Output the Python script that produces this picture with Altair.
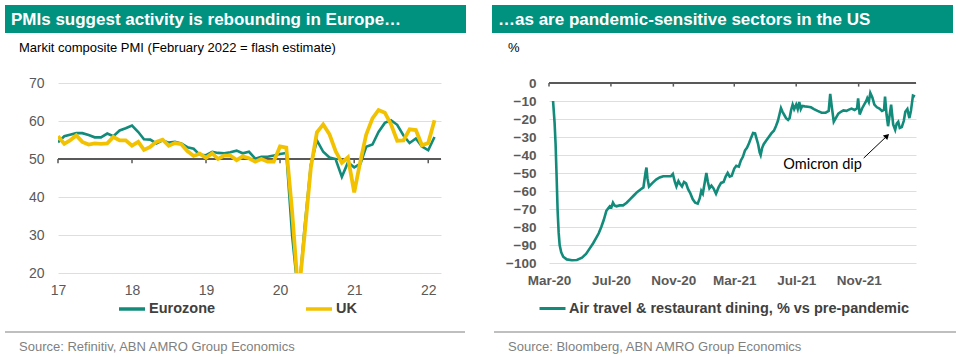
import altair as alt
import pandas as pd

FONT = "Liberation Sans"
BAR = "#00927f"
TEAL = "#138b7b"
YELLOW = "#f2c200"
GRID = "#dedede"
AXIS_DARK = "#595959"
LABEL = "#595959"
SRC = "#7f7f7f"

# ---------------- Left panel data: Markit composite PMI ----------------
pmi_months = pd.date_range("2017-01-01", "2022-02-01", freq="MS").strftime("%Y-%m-%d").tolist()
eurozone_pmi = [
    54.4, 56.0, 56.4, 56.8, 56.8, 56.3, 55.7, 55.7, 56.7, 56.0, 57.5, 58.1,
    58.8, 57.1, 55.2, 55.1, 54.1, 54.9, 54.3, 54.5, 54.1, 53.1, 52.7, 51.1,
    51.0, 51.9, 51.6, 51.5, 51.8, 52.2, 51.5, 51.9, 50.1, 50.6, 50.6, 50.9,
    51.3, 51.6, 29.7, 13.6, 31.9, 48.5, 54.9, 51.9, 50.4, 50.0, 45.3, 49.1,
    47.8, 48.8, 53.2, 53.8, 57.1, 59.5, 60.2, 59.0, 56.2, 54.2, 55.4, 53.3,
    52.3, 55.8,
]
uk_pmi = [
    56.0, 54.0, 54.9, 56.2, 54.5, 53.8, 54.1, 54.0, 54.1, 55.8, 54.9, 54.9,
    53.5, 54.5, 52.4, 53.2, 54.5, 55.1, 53.5, 54.2, 53.9, 52.1, 50.8, 51.4,
    50.3, 51.5, 50.0, 50.9, 50.9, 49.7, 50.7, 50.2, 49.3, 50.0, 49.3, 49.3,
    53.3, 53.0, 36.0, 13.8, 30.0, 47.7, 57.0, 59.1, 56.5, 52.1, 49.0, 50.4,
    41.2, 49.6, 56.4, 60.7, 62.9, 62.2, 59.2, 54.8, 54.9, 57.8, 57.6, 53.6,
    54.2, 60.2,
]
pmi_series = ["Eurozone", "UK"]
pmi_year_ticks = [2017, 2018, 2019, 2020, 2021, 2022]
pmi_y_ticks = [20, 30, 40, 50, 60, 70]

# ---------------- Right panel data: US air travel & dining ----------------
air_dates = [
    "2020-03-09", "2020-03-12", "2020-03-14", "2020-03-16", "2020-03-18", "2020-03-20",
    "2020-03-22", "2020-03-25", "2020-03-29", "2020-04-05", "2020-04-15", "2020-04-25",
    "2020-05-05", "2020-05-13", "2020-05-20", "2020-05-27", "2020-06-02", "2020-06-07",
    "2020-06-12", "2020-06-17", "2020-06-22", "2020-06-26", "2020-06-29", "2020-07-02",
    "2020-07-05", "2020-07-08", "2020-07-12", "2020-07-18", "2020-07-25", "2020-08-01",
    "2020-08-08", "2020-08-15", "2020-08-22", "2020-08-29", "2020-09-03", "2020-09-07",
    "2020-09-09", "2020-09-11", "2020-09-14", "2020-09-21", "2020-09-28", "2020-10-05",
    "2020-10-12", "2020-10-20", "2020-10-27", "2020-10-31", "2020-11-04", "2020-11-07",
    "2020-11-11", "2020-11-14", "2020-11-18", "2020-11-22", "2020-11-26", "2020-11-30",
    "2020-12-04", "2020-12-09", "2020-12-14", "2020-12-19", "2020-12-23", "2020-12-26",
    "2020-12-29", "2021-01-02", "2021-01-05", "2021-01-08", "2021-01-11", "2021-01-15",
    "2021-01-19", "2021-01-24", "2021-01-29", "2021-02-03", "2021-02-08", "2021-02-12",
    "2021-02-16", "2021-02-20", "2021-02-24", "2021-03-01", "2021-03-05", "2021-03-10",
    "2021-03-14", "2021-03-18", "2021-03-22", "2021-03-26", "2021-03-30", "2021-04-03",
    "2021-04-07", "2021-04-11", "2021-04-14", "2021-04-17", "2021-04-20", "2021-04-22",
    "2021-04-25", "2021-04-28", "2021-05-03", "2021-05-08", "2021-05-13", "2021-05-18",
    "2021-05-22", "2021-05-26", "2021-05-29", "2021-06-01", "2021-06-04", "2021-06-07",
    "2021-06-11", "2021-06-15", "2021-06-18", "2021-06-21", "2021-06-24", "2021-06-27",
    "2021-07-01", "2021-07-04", "2021-07-07", "2021-07-10", "2021-07-13", "2021-07-18",
    "2021-07-24", "2021-07-30", "2021-08-05", "2021-08-12", "2021-08-20", "2021-08-28",
    "2021-09-03", "2021-09-06", "2021-09-09", "2021-09-13", "2021-09-17", "2021-09-22",
    "2021-09-27", "2021-10-02", "2021-10-08", "2021-10-13", "2021-10-18", "2021-10-24",
    "2021-10-29", "2021-10-31", "2021-11-03", "2021-11-08", "2021-11-13", "2021-11-16",
    "2021-11-18", "2021-11-21", "2021-11-24", "2021-11-28", "2021-12-02", "2021-12-07",
    "2021-12-12", "2021-12-17", "2021-12-21", "2021-12-23", "2021-12-26", "2021-12-29",
    "2022-01-01", "2022-01-04", "2022-01-08", "2022-01-12", "2022-01-15", "2022-01-18",
    "2022-01-21", "2022-01-25", "2022-01-29", "2022-02-01", "2022-02-05", "2022-02-09",
    "2022-02-12", "2022-02-16", "2022-02-20",
]
air_values = [
    -10, -22, -34, -52, -71, -83,
    -90, -94, -96.5, -98, -98.5, -98.3,
    -97, -95, -92, -89, -86, -83.5,
    -80, -76, -71, -69.5, -68.5, -69,
    -66.5, -68, -68.5, -68, -68, -66.5,
    -64.5, -62.5, -60.5, -59, -58, -50,
    -47, -53, -57.5, -55.5, -53.7, -52.5,
    -51.8, -51.8, -51.8, -50.5, -55, -57.5,
    -54.5, -56, -57.5, -55, -55.8, -59,
    -61, -64.5, -66.5, -67, -64, -60,
    -61.5, -55, -50, -55, -58.5, -57,
    -58.5, -61.5, -58, -55.5, -55, -52,
    -50, -52, -51.5, -47.5, -46, -46.5,
    -43, -41, -37.5, -36, -33.5, -30.5,
    -27.8, -28, -31, -34, -38.5, -40,
    -36, -34, -32, -30, -28, -26.5,
    -24, -21, -17.5, -14, -16, -17.5,
    -19.5, -20.5, -19.5, -15, -12, -14.5,
    -12, -14.5, -10.5, -14.5, -12.8, -13,
    -13.2, -13.5, -14.5, -15.5, -16.5, -16.5,
    -15.5, -6, -13, -21.5, -19.5, -17,
    -16, -15.2, -15.5, -14.8, -14.2, -15,
    -14, -8.5, -17.5, -14, -11.5, -10,
    -8.5, -10.5, -5.5, -8, -12, -13.5,
    -14.2, -15.5, -15, -7.5, -17.5, -24,
    -18, -12, -23, -26, -22.5, -21.5,
    -25, -24.5, -21, -16, -14.5, -19.5,
    -15.5, -7, -7.5,
]
air_series = ["Air travel & restaurant dining, % vs pre-pandemic"]
air_tick_months = [(2020, 3), (2020, 7), (2020, 11), (2021, 3), (2021, 7), (2021, 11)]
air_y_ticks = [-100, -90, -80, -70, -60, -50, -40, -30, -20, -10, 0]

# annotation (data coordinates)
ann_text = "Omicron dip"
ann_text_pos = ("2021-08-22", -45.6)
ann_arrow = ("2021-11-11", -41.7, "2021-12-27", -29.4)

# ---------------- tables ----------------
pmi_df = pd.DataFrame({
    "date": pmi_months * 2,
    "value": eurozone_pmi + uk_pmi,
    "series": [pmi_series[0]] * len(pmi_months) + [pmi_series[1]] * len(pmi_months),
})
pmi_ticks_df = pd.DataFrame({"date": [f"{y}-01-01" for y in pmi_year_ticks]})
air_df = pd.DataFrame({"date": air_dates, "value": air_values, "series": air_series[0]})
air_ticks_df = pd.DataFrame({"date": [f"{y}-{m:02d}-01" for y, m in air_tick_months]})
ann_df = pd.DataFrame({"x": [ann_arrow[0]], "y": [ann_arrow[1]], "x2": [ann_arrow[2]], "y2": [ann_arrow[3]]})
ann_txt_df = pd.DataFrame({"x": [ann_text_pos[0]], "y": [ann_text_pos[1]], "t": [ann_text]})

one = pd.DataFrame({"k": [0]})


def dt(y, m, d):
    return alt.DateTime(year=y, month=m, date=d, utc=True)


def box(x1, x2, y1, y2, color):
    return alt.Chart(one).mark_rect(color=color).encode(
        x=alt.value(x1), x2=alt.value(x2), y=alt.value(y1), y2=alt.value(y2))


def hline(x1, x2, y, color, width):
    return alt.Chart(one).mark_rule(color=color, strokeWidth=width).encode(
        x=alt.value(x1), x2=alt.value(x2), y=alt.value(y))


def txt(x, y, s, size, color, weight="normal", font=FONT):
    return alt.Chart(one).mark_text(
        text=s, fontSize=size, color=color, fontWeight=weight, font=font,
        align="left", baseline="middle").encode(x=alt.value(x), y=alt.value(y))


# ---------------- Left panel ----------------
LW, LH = 383, 190

lx_axis = alt.Axis(
    values=[dt(y, 1, 1) for y in pmi_year_ticks], format="%y", labelAngle=0,
    domain=False, ticks=False, grid=False, labelPadding=10, labelFontSize=14,
    labelColor=LABEL, labelFont=FONT, title=None, labelFlush=False, labelOverlap=False)
lx_scale = alt.Scale(type="utc", domain=[dt(2017, 1, 1), dt(2022, 3, 5)])
ly_axis = alt.Axis(
    values=pmi_y_ticks, domain=False, ticks=False, grid=True, gridColor=GRID,
    gridWidth=1, labelPadding=14, labelFontSize=14, labelColor=LABEL,
    labelFont=FONT, title=None)
ly_scale = alt.Scale(domain=[20, 70], nice=False, zero=False)

lcolor = alt.Color(
    "series:N", scale=alt.Scale(domain=pmi_series, range=[TEAL, YELLOW]),
    legend=alt.Legend(
        title=None, orient="none", legendX=59, legendY=211, direction="horizontal",
        symbolType="stroke", symbolSize=676, symbolStrokeWidth=3.5,
        labelFontSize=14.5, labelFontWeight="bold", labelColor="#404040",
        labelFont=FONT, columnPadding=83, labelOffset=2, padding=0))

lbase = alt.Chart(pmi_df).encode(
    x=alt.X("date:T", scale=lx_scale, axis=lx_axis),
    y=alt.Y("value:Q", scale=ly_scale, axis=ly_axis),
    color=lcolor)
ez_line = lbase.transform_filter(alt.datum.series == "Eurozone").mark_line(strokeWidth=2.6, clip=True)
uk_line = lbase.transform_filter(alt.datum.series == "UK").mark_line(strokeWidth=3.8, clip=True)

l_axis_line = alt.Chart(one).mark_rule(color=AXIS_DARK, strokeWidth=2).encode(
    x=alt.value(0), x2=alt.value(LW), y=alt.Y(datum=50, scale=ly_scale, axis=ly_axis))
l_ticks = alt.Chart(pmi_ticks_df).mark_rule(color=AXIS_DARK, strokeWidth=1.5).encode(
    x=alt.X("date:T", scale=lx_scale, axis=lx_axis),
    y=alt.Y(datum=50, scale=ly_scale, axis=ly_axis), y2=alt.Y2(datum=48.9))

left = alt.layer(
    box(-53, 408, -78, -50, BAR),
    txt(-47, -63, "PMIs suggest activity is rebounding in Europe…", 17, "white", "bold"),
    txt(-39, -35, "Markit composite PMI (February 2022 = flash estimate)", 13, "black"),
    l_axis_line, l_ticks, ez_line, uk_line,
    hline(-53, 407, 249, "#bfbfbf", 2),
    txt(-39, 264, "Source: Refinitiv, ABN AMRO Group Economics", 13, SRC),
).properties(width=LW, height=LH)

# ---------------- Right panel ----------------
RW, RH = 367, 180

rx_axis = alt.Axis(
    values=[dt(y, m, 1) for y, m in air_tick_months], format="%b-%y", labelAngle=0,
    domain=False, ticks=False, grid=False, labelPadding=10, labelFontSize=13.5,
    labelFontWeight="bold", labelColor=LABEL, labelFont=FONT, title=None,
    labelFlush=False, labelOverlap=False)
rx_scale = alt.Scale(type="utc", domain=[dt(2020, 3, 1), dt(2022, 2, 22)])
ry_axis = alt.Axis(
    values=air_y_ticks, domain=False, ticks=False, grid=True, gridColor=GRID,
    gridWidth=1, labelPadding=13, labelFontSize=13.5, labelFontWeight="bold",
    labelColor=LABEL, labelFont=FONT, title=None)
ry_scale = alt.Scale(domain=[-100, 0], nice=False, zero=False)

rcolor = alt.Color(
    "series:N", scale=alt.Scale(domain=air_series, range=[TEAL]),
    legend=alt.Legend(
        title=None, orient="none", legendX=-11, legendY=211, direction="horizontal",
        symbolType="stroke", symbolSize=676, symbolStrokeWidth=3,
        labelFontSize=14.5, labelFontWeight="bold", labelColor="#404040",
        labelFont=FONT, labelOffset=2, labelLimit=600, padding=0))

air_line = alt.Chart(air_df).mark_line(strokeWidth=2.6).encode(
    x=alt.X("date:T", scale=rx_scale, axis=rx_axis),
    y=alt.Y("value:Q", scale=ry_scale, axis=ry_axis),
    color=rcolor)

r_axis_line = alt.Chart(one).mark_rule(color=AXIS_DARK, strokeWidth=2).encode(
    x=alt.value(0), x2=alt.value(RW), y=alt.Y(datum=0, scale=ry_scale, axis=ry_axis))
r_ticks = alt.Chart(air_ticks_df).mark_rule(color=AXIS_DARK, strokeWidth=1.5).encode(
    x=alt.X("date:T", scale=rx_scale, axis=rx_axis),
    y=alt.Y(datum=0, scale=ry_scale, axis=ry_axis), y2=alt.Y2(datum=-2))

arrow_line = alt.Chart(ann_df).mark_rule(color="black", strokeWidth=1).encode(
    x=alt.X("x:T", scale=rx_scale, axis=rx_axis),
    y=alt.Y("y:Q", scale=ry_scale, axis=ry_axis),
    x2="x2:T", y2="y2:Q")
arrow_head = alt.Chart(ann_df).mark_point(
    shape="triangle-up", filled=True, size=40, angle=46, color="black", opacity=1).encode(
    x=alt.X("x2:T", scale=rx_scale, axis=rx_axis),
    y=alt.Y("y2:Q", scale=ry_scale, axis=ry_axis))
arrow_text = alt.Chart(ann_txt_df).mark_text(
    fontSize=14.5, font="Lato", color="black", align="center", baseline="middle").encode(
    x=alt.X("x:T", scale=rx_scale, axis=rx_axis),
    y=alt.Y("y:Q", scale=ry_scale, axis=ry_axis),
    text="t:N")

right = alt.layer(
    box(-57, 404, -78, -50, BAR),
    txt(-51, -63, "…as are pandemic-sensitive sectors in the US", 17, "white", "bold"),
    txt(-41, -35, "%", 13, "black"),
    r_axis_line, r_ticks, air_line, arrow_line, arrow_head, arrow_text,
    hline(-55, 407, 249, "#bfbfbf", 2),
    txt(-41, 264, "Source: Bloomberg, ABN AMRO Group Economics", 13, SRC),
).properties(width=RW, height=RH)

chart = alt.hconcat(left, right, spacing=26).resolve_scale(
    color="independent"
).resolve_legend(
    color="independent"
).properties(
    padding={"left": 4, "top": 5, "right": 0, "bottom": 0}
).configure(font=FONT, background="white").configure_view(stroke=None)

chart.save("out.html", embed_options={"renderer": "svg", "actions": False})
